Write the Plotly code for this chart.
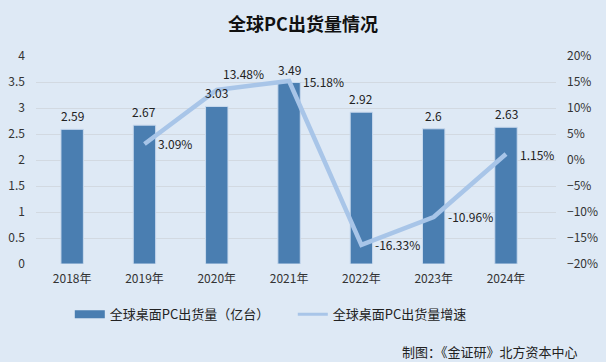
import plotly.graph_objects as go

years = ["2018年", "2019年", "2020年", "2021年", "2022年", "2023年", "2024年"]
shipments = [2.59, 2.67, 3.03, 3.49, 2.92, 2.6, 2.63]
growth_years = ["2019年", "2020年", "2021年", "2022年", "2023年", "2024年"]
growth = [3.09, 13.48, 15.18, -16.33, -10.96, 1.15]

bg = "#DEE9F5"
bar_color = "#4A7EB1"
line_color = "#A8C5E8"
font_family = "Noto Sans CJK SC, Noto Sans, sans-serif"
txt = "#222"

fig = go.Figure()
fig.add_trace(go.Bar(
    x=years, y=shipments, name="全球桌面PC出货量（亿台）", showlegend=False,
    marker=dict(color=bar_color, line=dict(color="#C9DAEE", width=1)),
))
fig.add_trace(go.Scatter(
    x=growth_years, y=growth, name="全球桌面PC出货量增速", yaxis="y2",
    mode="lines", line=dict(color=line_color, width=4.5), showlegend=False,
    cliponaxis=False,
))
# legend-only entries
fig.add_trace(go.Scatter(x=[None], y=[None], mode="lines", name="全球桌面PC出货量（亿台）",
                         line=dict(color=bar_color, width=8)))
fig.add_trace(go.Scatter(x=[None], y=[None], mode="lines", name="全球桌面PC出货量增速",
                         line=dict(color=line_color, width=3)))

annotations = []
for x, v in zip(years, shipments):
    annotations.append(dict(x=x, y=v, xref="x", yref="y", text=str(v), showarrow=False,
                            xanchor="center", yanchor="bottom", yshift=3,
                            font=dict(size=12, color=txt)))
for x, v in zip(growth_years, growth):
    a = dict(x=x, y=v, xref="x", yref="y2", text=f"{v:.2f}%", showarrow=False,
             xanchor="left", yanchor="middle", xshift=12, yshift=0,
             font=dict(size=12, color=txt))
    if x == "2020年":
        a["xshift"] = 4
        a["yshift"] = 16
    annotations.append(a)
annotations.append(dict(text="制图：《金证研》北方资本中心", x=1, xref="paper", xanchor="right",
                        xshift=24, y=-0.423, yref="paper", yanchor="middle", showarrow=False,
                        font=dict(size=13, color=txt)))

fig.update_layout(
    width=606, height=362, paper_bgcolor=bg, plot_bgcolor=bg,
    margin=dict(l=36, r=50, t=56, b=98, autoexpand=False),
    font=dict(family=font_family, size=12, color="#333"),
    title=dict(text="<b>全球PC出货量情况</b>", x=0.5, xanchor="center", y=1 - 25 / 362,
               yanchor="middle", font=dict(size=18, color="#111")),
    bargap=0.69,
    showlegend=True,
    legend=dict(orientation="h", x=0.065, xanchor="left", y=-0.17, yanchor="top",
                font=dict(size=13, color=txt), bgcolor="rgba(0,0,0,0)", itemwidth=30,
                entrywidth=178),
    xaxis=dict(showgrid=False, showline=False, ticks="", automargin=False,
               tickfont=dict(size=12, color="#333"), ticklabelstandoff=6),
    yaxis=dict(range=[0, 4], dtick=0.5, showgrid=True, gridcolor="#D2D9E1", automargin=False,
               zeroline=False, tickfont=dict(size=12, color="#333"), ticklabelstandoff=10),
    yaxis2=dict(range=[-20, 20], dtick=5, overlaying="y", side="right", showgrid=False,
                automargin=False, zeroline=False, ticksuffix="%",
                tickfont=dict(size=12, color="#333"), ticklabelstandoff=10),
    annotations=annotations,
)
fig.write_html("out.html", config={"displayModeBar": False},
               post_script="document.body.style.margin='0';document.body.style.overflow='hidden';")
